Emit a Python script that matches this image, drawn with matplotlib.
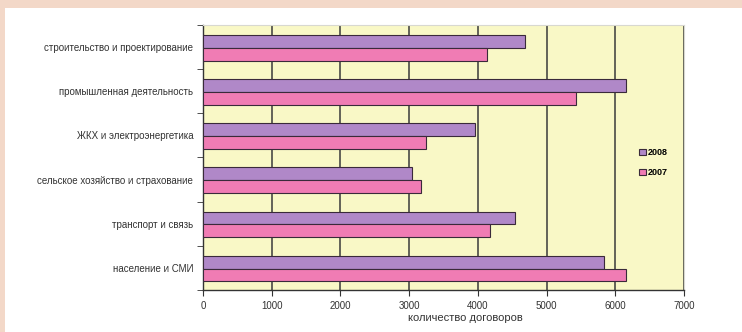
import numpy as np
import matplotlib
matplotlib.use('Agg')
import matplotlib.pyplot as plt
from matplotlib.patches import Rectangle

plt.rcParams['font.family'] = ['Liberation Sans', 'DejaVu Sans']

# сферы деятельности (сверху вниз)
categories = ['строительство и проектирование', 'промышленная деятельность',
              'ЖКХ и электроэнергетика', 'сельское хозяйство и страхование',
              'транспорт и связь', 'население и СМИ']
values_2008 = [4680, 6160, 3960, 3040, 4540, 5830]
values_2007 = [4130, 5430, 3250, 3170, 4180, 6150]
x_ticks = [0, 1000, 2000, 3000, 4000, 5000, 6000, 7000]

fig = plt.figure(figsize=(7.42, 3.32), dpi=100, facecolor='#f3d8c8')
# белая подложка
fig.patches.append(Rectangle((5 / 742, 0), 1 - 5 / 742, 1 - 8 / 332,
                             transform=fig.transFigure, facecolor='white',
                             edgecolor='none', zorder=0))

ax = fig.add_axes([203 / 742, 1 - 290 / 332, 481 / 742, 265 / 332])
ax.set_zorder(2)
ax.set_facecolor('#f9f8c6')

y = np.arange(len(categories))
h = 0.29
ax.barh(y - 0.13, values_2008, h, color='#b088c8', edgecolor='#3a2a3a',
        linewidth=0.8, label='2008', zorder=3)
ax.barh(y + 0.16, values_2007, h, color='#f07cb4', edgecolor='#3a2a3a',
        linewidth=0.8, label='2007', zorder=3)

ax.set_xlim(0, 7000)
ax.set_ylim(len(categories) - 0.5, -0.5)
ax.set_xticks(x_ticks)
ax.set_xticklabels([str(v) for v in x_ticks], fontsize=7, color='#333333')
ax.set_yticks(y)
ax.set_yticklabels(categories, fontsize=7, color='#333333')
ax.tick_params(axis='y', length=0, pad=7)
ax.set_yticks(np.arange(len(categories) + 1) - 0.5, minor=True)
ax.tick_params(axis='y', which='minor', length=4, color='#333333')
ax.tick_params(axis='x', length=4, color='#333333', pad=4)

ax.grid(axis='x', color='#3a3a3a', linewidth=1.1, zorder=1)
for side in ['left', 'bottom']:
    ax.spines[side].set_color('#333333')
    ax.spines[side].set_linewidth(1.0)
for side in ['top', 'right']:
    ax.spines[side].set_color('#d8d8d0')

ax.set_xlabel('количество договоров', fontsize=8, color='#333333')
ax.xaxis.set_label_coords(0.545, -0.085)

ax.legend(loc='center left', bbox_to_anchor=(0.89, 0.48), frameon=False,
          handlelength=0.7, handleheight=0.7, handletextpad=0.3,
          labelspacing=1.2, prop={'weight': 'bold', 'size': 6.5})

fig.savefig('out.png', dpi=100, facecolor=fig.get_facecolor())
